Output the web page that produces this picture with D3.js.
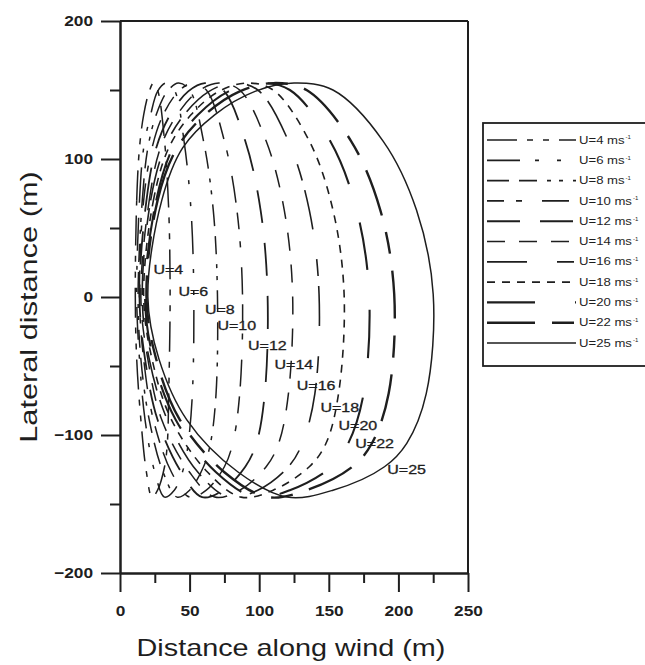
<!DOCTYPE html>
<html>
<head>
<meta charset="utf-8">
<script src="https://cdn.jsdelivr.net/npm/d3@7"></script>
<style>
  html, body { margin: 0; padding: 0; background: #fff; }
  svg { display: block; font-family: "Liberation Sans", Arial, sans-serif; }
</style>
</head>
<body>
<svg id="chart" width="645" height="665"></svg>
<script>
// wind speeds (m/s), one closed footprint curve each
const speeds = [4, 6, 8, 10, 12, 14, 16, 18, 20, 22, 25]

// lateral position (m) of the points read around each curve (clockwise from the source)
const lateral = [0, 70, 108, 132, 149, 155, 150, 113, 63, 2, -70, -106, -123, -140, -145, -127, -89, -45]

// along-wind position (m) of the same points, per wind speed
const alongU4  = [11, 12, 14, 17, 21, 24, 27, 32, 35, 36, 35, 34, 32, 27, 23, 19, 15, 12]
const alongU6  = [12, 14, 17, 22, 27, 33, 39, 46, 51, 53, 52, 49, 46, 39, 32, 25, 18, 14]
const alongU8  = [13, 16, 20, 26, 34, 42, 50, 60, 67, 70, 69, 65, 60, 50, 41, 31, 21, 15]
const alongU10 = [14, 17, 23, 31, 42, 52, 62, 75, 84, 88, 86, 81, 75, 62, 50, 37, 24, 17]
const alongU12 = [14, 19, 26, 36, 49, 61, 74, 90, 101, 106, 104, 98, 90, 74, 59, 44, 27, 18]
const alongU14 = [15, 21, 29, 41, 56, 71, 86, 105, 118, 124, 121, 114, 105, 86, 68, 50, 30, 20]
const alongU16 = [16, 22, 32, 46, 64, 81, 99, 121, 136, 143, 140, 131, 121, 99, 78, 56, 34, 21]
const alongU18 = [17, 24, 35, 51, 71, 91, 110, 136, 153, 161, 157, 148, 136, 110, 87, 63, 37, 23]
const alongU20 = [18, 26, 38, 56, 78, 100, 122, 151, 170, 179, 175, 164, 152, 122, 97, 69, 40, 24]
const alongU22 = [19, 27, 41, 61, 86, 110, 134, 166, 187, 197, 193, 181, 167, 134, 106, 75, 43, 26]
const alongU25 = [20, 30, 45, 68, 97, 125, 153, 189, 213, 225, 220, 206, 190, 153, 120, 85, 48, 28]
const along = [alongU4, alongU6, alongU8, alongU10, alongU12, alongU14, alongU16, alongU18, alongU20, alongU22, alongU25]

// where the "U=.." labels sit (m)
const labelAlong   = [24, 42, 61, 70, 92, 111, 127, 144, 157, 169, 192]
const labelLateral = [20, 4, -9, -21, -35, -49, -64, -80, -93, -106, -125]

// axis ticks
const xTicks = [0, 50, 100, 150, 200, 250]
const xMinor = [25, 75, 125, 175, 225]
const yTicks = [-200, -100, 0, 100, 200]
const yMinor = [-150, -50, 50, 150]

// line styles
const dashes = ["30,10,6,10,6,10", "33,15,4,18,4,15", "22,10,18,10,4,8,4,10", "17,12,6,20,27,10",
  "33,20", "18,14", "40,30,17,10", "8,7", "48,40", "48,17,22,17", null]
const widths = [1.5, 1.5, 1.5, 1.5, 1.8, 1.5, 1.6, 1.6, 2.1, 2.4, 1.5]

const ink = "#1e1e1e"
const svg = d3.select("#chart")
svg.append("rect").attr("width", 645).attr("height", 665).attr("fill", "#fff")

const x = d3.scaleLinear().domain([0, 250]).range([120, 468])
const y = d3.scaleLinear().domain([-200, 200]).range([573, 21])

// stretch text horizontally, the scan is wider than Arial
function stretch(sel, k) {
  sel.each(function () {
    const len = this.getComputedTextLength()
    d3.select(this).attr("textLength", len * k).attr("lengthAdjust", "spacingAndGlyphs")
  })
}

// curves
const curves = speeds.map((u, i) => ({u, pts: along[i].map((a, j) => [a, lateral[j]])}))
const line = d3.line().x(d => x(d[0])).y(d => y(d[1])).curve(d3.curveCatmullRomClosed.alpha(0.5))

svg.append("g")
  .selectAll("path")
  .data(curves)
  .join("path")
    .attr("d", d => line(d.pts))
    .attr("fill", "none")
    .attr("stroke", ink)
    .attr("stroke-width", (d, i) => widths[i])
    .attr("stroke-dasharray", (d, i) => dashes[i])

// curve labels
svg.append("g")
  .selectAll("text")
  .data(speeds)
  .join("text")
    .attr("x", (d, i) => x(labelAlong[i]))
    .attr("y", (d, i) => y(labelLateral[i]))
    .attr("dy", "0.36em")
    .attr("font-size", 12.5)
    .attr("fill", ink)
    .attr("stroke", ink)
    .attr("stroke-width", 0.3)
    .text(d => `U=${d}`)
    .call(stretch, 1.28)

// frame
svg.append("line").attr("x1", x(0)).attr("x2", x(250)).attr("y1", y(200)).attr("y2", y(200))
  .attr("stroke", ink).attr("stroke-width", 2)
svg.append("line").attr("x1", x(250)).attr("x2", x(250)).attr("y1", y(200)).attr("y2", y(-200))
  .attr("stroke", ink).attr("stroke-width", 2)

svg.append("g").attr("transform", `translate(0,${y(-200)})`)
  .call(d3.axisBottom(x).tickValues(xTicks).tickSize(19).tickSizeOuter(0).tickPadding(13))
svg.append("g").attr("transform", `translate(0,${y(-200)})`)
  .call(d3.axisBottom(x).tickValues(xMinor).tickSize(10).tickSizeOuter(0).tickFormat(""))
svg.append("g").attr("transform", `translate(${x(0)},0)`)
  .call(d3.axisLeft(y).tickValues(yTicks).tickSize(19).tickSizeOuter(0).tickPadding(8))
svg.append("g").attr("transform", `translate(${x(0)},0)`)
  .call(d3.axisLeft(y).tickValues(yMinor).tickSize(10).tickSizeOuter(0).tickFormat(""))

svg.selectAll(".domain").attr("stroke", ink).attr("stroke-width", 2)
svg.selectAll(".tick line").attr("stroke", ink).attr("stroke-width", 2)
svg.selectAll(".tick text")
  .attr("fill", ink)
  .attr("font-family", "Liberation Sans, Arial, sans-serif")
  .attr("font-weight", "bold")
  .attr("font-size", 15)
  .call(stretch, 1.15)

// axis titles
svg.append("text")
  .attr("x", 291).attr("y", 656)
  .attr("text-anchor", "middle")
  .attr("font-size", 24)
  .attr("fill", ink)
  .text("Distance along wind (m)")
  .call(stretch, 1.2)

svg.append("text")
  .attr("transform", "translate(37,307) rotate(-90)")
  .attr("text-anchor", "middle")
  .attr("font-size", 24)
  .attr("fill", ink)
  .text("Lateral distance (m)")
  .call(stretch, 1.28)

// legend
const legendY = d3.scalePoint().domain(speeds).range([140, 343])
const legend = svg.append("g")
legend.append("rect")
  .attr("x", 483).attr("y", 123).attr("width", 200).attr("height", 243)
  .attr("fill", "#fff").attr("stroke", ink).attr("stroke-width", 1.8)

const entry = legend.selectAll("g")
  .data(speeds)
  .join("g")
    .attr("transform", d => `translate(0,${legendY(d)})`)

entry.append("line")
  .attr("x1", 487).attr("x2", 576)
  .attr("stroke", ink)
  .attr("stroke-width", (d, i) => widths[i] + 0.2)
  .attr("stroke-dasharray", (d, i) => dashes[i])

entry.append("text")
  .attr("x", 579).attr("dy", "0.35em")
  .attr("font-size", 10.5)
  .attr("fill", ink)
  .text(d => `U=${d} ms`)
  .call(stretch, 1.25)
  .each(function (d) {
    const w = +this.getAttribute("textLength")
    d3.select(this.parentNode).append("text")
      .attr("x", 579 + w + 1).attr("dy", "-0.1em")
      .attr("font-size", 6)
      .attr("fill", ink)
      .text("-1")
  })
</script>
</body>
</html>
